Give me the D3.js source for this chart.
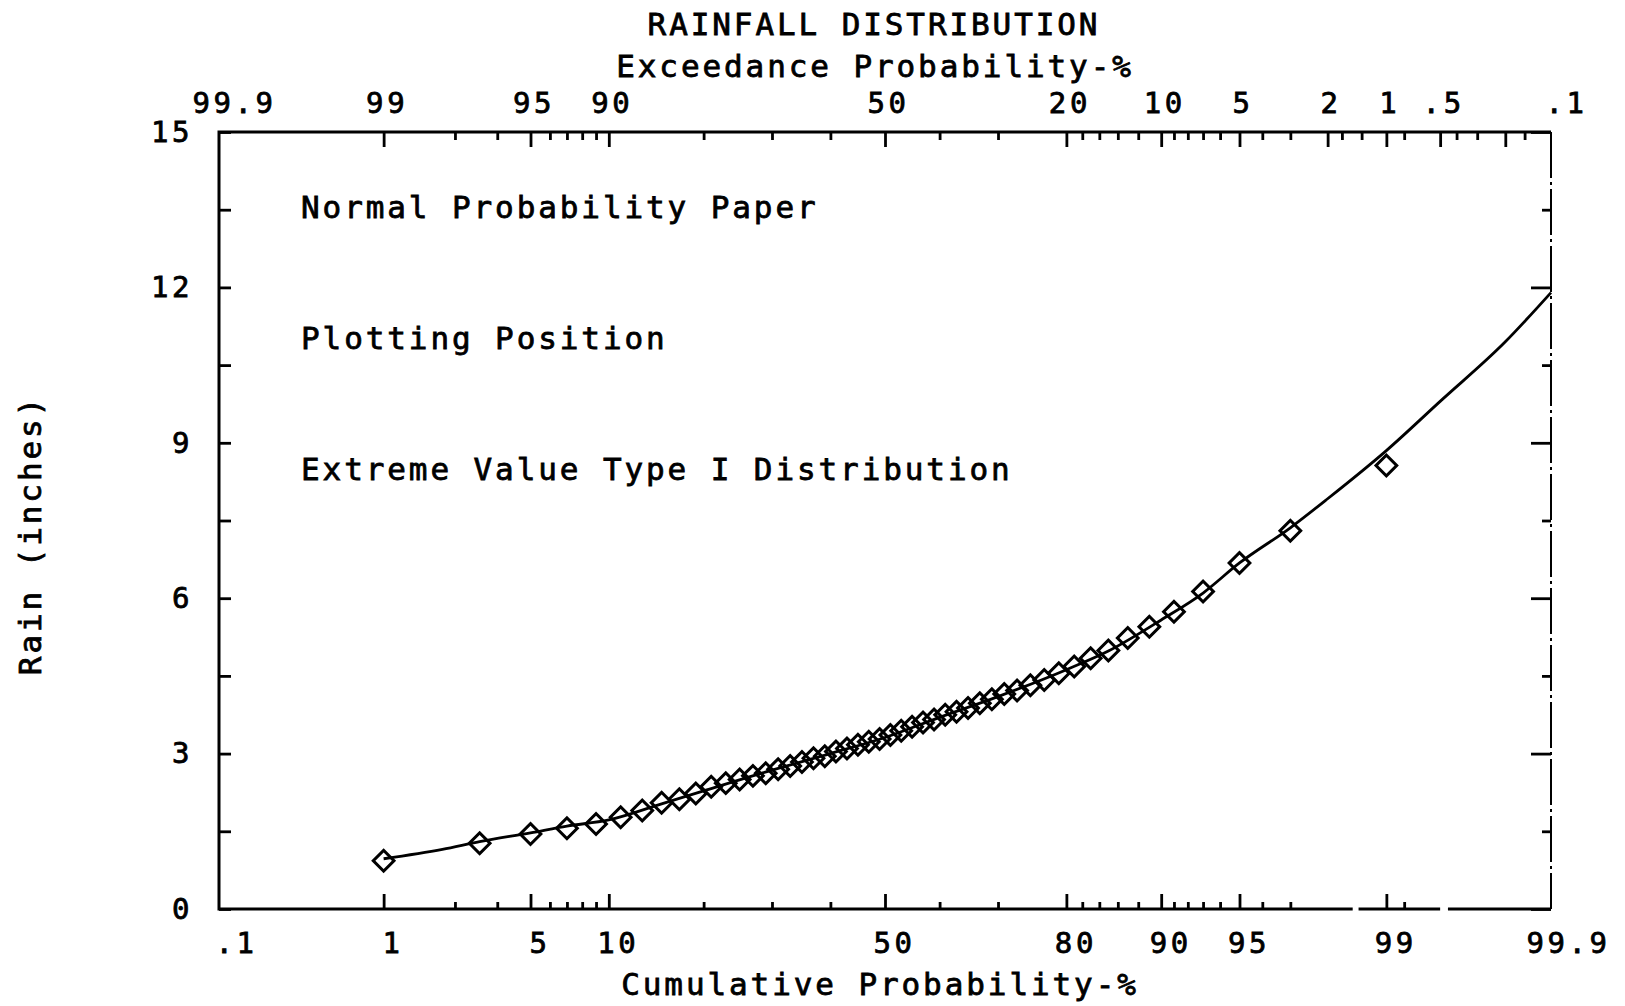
<!DOCTYPE html>
<html>
<head>
<meta charset="utf-8">
<script src="https://cdn.jsdelivr.net/npm/d3@7"></script>
<style>
    body { margin: 0; background: #fff; }
    text { font-family: "DejaVu Sans Mono", monospace; font-size: 31px; letter-spacing: 2.9px; fill: #000; stroke: #000; stroke-width: 0.8px; }
    .tick text { font-size: 29px; letter-spacing: 3.6px; }
</style>
</head>
<body>
<div id="chart"></div>
<script>

// Plotted points: cumulative probability (%) and rain (inches)
const pointProb = [1, 3, 5, 7, 9, 11, 13, 15, 17, 19, 21, 23, 25, 27, 29, 31, 33, 35, 37, 39,
    41, 43, 45, 47, 49, 51, 53, 55, 57, 59, 61, 63, 65, 67, 69, 71, 73, 75, 77, 79,
    81, 83, 85, 87, 89, 91, 93, 95, 97, 99];
const pointRain = [0.93, 1.27, 1.45, 1.56, 1.64, 1.77, 1.90, 2.05, 2.12, 2.23, 2.36, 2.43, 2.50, 2.57, 2.62, 2.70, 2.76, 2.84, 2.91, 2.95,
    3.04, 3.10, 3.17, 3.23, 3.28, 3.36, 3.44, 3.52, 3.60, 3.66, 3.75, 3.81, 3.88, 3.97, 4.05, 4.15, 4.22, 4.32, 4.42, 4.55,
    4.68, 4.84, 4.99, 5.23, 5.45, 5.74, 6.13, 6.68, 7.30, 8.56];

// Fitted Extreme Value Type I line
const curveProb = [1, 2, 3, 5, 7, 10, 15, 20, 30, 40, 50, 60, 70, 80, 85, 90, 93, 95, 97, 98, 99, 99.5, 99.8, 99.9];
const curveRain = [0.97, 1.15, 1.30, 1.47, 1.60, 1.72, 2.03, 2.28, 2.68, 3.00, 3.31, 3.70, 4.10, 4.62, 4.98, 5.58, 6.10, 6.68, 7.36, 7.92, 8.85, 9.80, 10.95, 11.9];

// Bottom axis (cumulative probability)
const bottomMajor = [1, 5, 10, 50, 80, 90, 95, 99];
const bottomMinor = [2.3, 3.6, 6, 7, 8, 9, 20, 30, 40, 60, 70, 82, 84, 86, 88, 91, 92, 93, 94, 96, 97, 99.2];
const bottomLabelProb = [0.1, 1, 5, 10, 50, 80, 90, 95, 99, 99.9];
const bottomLabelText = [".1", "1", "5", "10", "50", "80", "90", "95", "99", "99.9"];

// Top axis (exceedance probability), positioned by cumulative probability
const topMajor = [1, 5, 10, 50, 80, 90, 95, 98, 99, 99.5, 99.8];
const topMinor = [2.3, 3.6, 6, 7, 8, 9, 20, 30, 40, 60, 70, 82, 84, 86, 88, 91, 92, 93, 94, 96, 97, 98.3, 98.65, 99.2, 99.6, 99.7, 99.85];
const topLabelProb = [0.1, 1, 5, 10, 50, 80, 90, 95, 98, 99, 99.5, 99.9];
const topLabelText = ["99.9", "99", "95", "90", "50", "20", "10", "5", "2", "1", ".5", ".1"];

// Rain axis
const rainTicks = [0, 1.5, 3, 4.5, 6, 7.5, 9, 10.5, 12, 13.5, 15];
const rainLabels = [0, 3, 6, 9, 12, 15];

const notes = ["Normal Probability Paper", "Plotting Position", "Extreme Value Type I Distribution"];

// inverse of the standard normal CDF (Acklam), used for the probability paper axis
function probit(p) {
    const a = [-3.969683028665376e+01, 2.209460984245205e+02, -2.759285104469687e+02, 1.383577518672690e+02, -3.066479806614716e+01, 2.506628277459239e+00];
    const b = [-5.447609879822406e+01, 1.615858368580409e+02, -1.556989798598866e+02, 6.680131188771972e+01, -1.328068155288572e+01];
    const c = [-7.784894002430293e-03, -3.223964580411365e-01, -2.400758277161838e+00, -2.549732539343734e+00, 4.374664141464968e+00, 2.938163982698783e+00];
    const d = [7.784695709041462e-03, 3.224671290700398e-01, 2.445134137142996e+00, 3.754408661907416e+00];
    const plow = 0.02425;
    let q, r;
    if (p < plow) {
        q = Math.sqrt(-2 * Math.log(p));
        return (((((c[0]*q+c[1])*q+c[2])*q+c[3])*q+c[4])*q+c[5]) / ((((d[0]*q+d[1])*q+d[2])*q+d[3])*q+1);
    }
    if (p > 1 - plow) {
        q = Math.sqrt(-2 * Math.log(1 - p));
        return -(((((c[0]*q+c[1])*q+c[2])*q+c[3])*q+c[4])*q+c[5]) / ((((d[0]*q+d[1])*q+d[2])*q+d[3])*q+1);
    }
    q = p - 0.5;
    r = q * q;
    return (((((a[0]*r+a[1])*r+a[2])*r+a[3])*r+a[4])*r+a[5])*q / (((((b[0]*r+b[1])*r+b[2])*r+b[3])*r+b[4])*r+1);
}

function probabilityPlot(chartDiv) {

    const width = 1625
    const height = 1006
    const left = 219, right = 1551, top = 132, bottom = 909;

    const svg = d3.select(chartDiv)
        .append("svg")
        .attr("width", width)
        .attr("height", height);

    // x is linear in the normal deviate, y is linear in inches
    const zScale = d3.scaleLinear()
        .domain([probit(0.001), probit(0.999)])
        .range([left, right]);
    const z = pct => probit(pct / 100);
    const x = pct => zScale(z(pct));

    const y = d3.scaleLinear()
        .domain([0, 15])
        .range([bottom, top]);

    const tickStyle = g => {
        g.select(".domain").remove();
        g.attr("font-size", null).attr("font-family", null);
        g.selectAll(".tick line").attr("stroke", "#000").attr("stroke-width", 2.8);
    };

    // bottom axis: ticks point inward
    svg.append("g")
        .attr("transform", `translate(0,${bottom})`)
        .call(d3.axisBottom(zScale).tickValues(bottomMinor.map(z)).tickSize(-7).tickFormat(""))
        .call(tickStyle);
    svg.append("g")
        .attr("transform", `translate(0,${bottom})`)
        .call(d3.axisBottom(zScale).tickValues(bottomMajor.map(z)).tickSize(-15).tickFormat(""))
        .call(tickStyle);
    svg.append("g")
        .attr("transform", `translate(0,${bottom})`)
        .call(d3.axisBottom(zScale).tickValues(bottomLabelProb.map(z)).tickSize(0)
            .tickFormat((d, i) => bottomLabelText[i]))
        .call(tickStyle)
        .selectAll("text")
        .attr("y", 44)
        .attr("dy", null)
        .attr("dx", (d, i) => (i === 0 || i === bottomLabelText.length - 1) ? 17 : 9);

    // top axis: exceedance probability
    svg.append("g")
        .attr("transform", `translate(0,${top})`)
        .call(d3.axisTop(zScale).tickValues(topMinor.map(z)).tickSize(-8).tickFormat(""))
        .call(tickStyle);
    svg.append("g")
        .attr("transform", `translate(0,${top})`)
        .call(d3.axisTop(zScale).tickValues(topMajor.map(z)).tickSize(-15).tickFormat(""))
        .call(tickStyle);
    svg.append("g")
        .attr("transform", `translate(0,${top})`)
        .call(d3.axisTop(zScale).tickValues(topLabelProb.map(z)).tickSize(0)
            .tickFormat((d, i) => topLabelText[i]))
        .call(tickStyle)
        .selectAll("text")
        .attr("y", -19)
        .attr("dy", null)
        .attr("dx", (d, i) => (i === 0 || i === topLabelText.length - 1) ? 15 : 3);

    // left and right rain axes
    svg.append("g")
        .attr("transform", `translate(${left},0)`)
        .call(d3.axisLeft(y).tickValues(rainTicks).tickSize(-12)
            .tickFormat(d => rainLabels.includes(d) ? d : ""))
        .call(tickStyle)
        .selectAll("text")
        .attr("x", -26);
    svg.append("g")
        .attr("transform", `translate(${right},0)`)
        .call(d3.axisRight(y).tickValues(rainTicks.filter(d => !rainLabels.includes(d))).tickSize(-9).tickFormat(""))
        .call(tickStyle);
    svg.append("g")
        .attr("transform", `translate(${right},0)`)
        .call(d3.axisRight(y).tickValues(rainLabels).tickSize(-20).tickFormat(""))
        .call(tickStyle);

    // frame; the bottom line has two small breaks near the right end
    const frame = svg.append("g").attr("stroke", "#000").attr("fill", "none");
    frame.append("path")
        .attr("d", `M${x(99.9)},${y(15)}H${x(0.1)}V${y(0)}H${x(98.5)}`)
        .attr("stroke-width", 3)
        .attr("stroke-linejoin", "miter");
    frame.append("path")
        .attr("d", `M${x(98.6)},${y(0)}H${x(99.5)}M${x(99.55)},${y(0)}H${x(99.9)}`)
        .attr("stroke-width", 3);
    frame.append("line")
        .attr("x1", x(99.9)).attr("x2", x(99.9))
        .attr("y1", y(15)).attr("y2", y(0))
        .attr("stroke-width", 2)
        .attr("stroke-dasharray", "46,4,3,4");

    // fitted curve
    const curveData = curveProb.map((p, i) => ({p: p, r: curveRain[i]}));
    const line = d3.line()
        .x(d => x(d.p))
        .y(d => y(d.r))
        .curve(d3.curveMonotoneX);
    svg.append("path")
        .datum(curveData)
        .attr("d", line)
        .attr("fill", "none")
        .attr("stroke", "#000")
        .attr("stroke-width", 2.8);

    // plotting positions as open diamonds
    const pointData = pointProb.map((p, i) => ({p: p, r: pointRain[i]}));
    svg.selectAll(".point")
        .data(pointData)
        .enter()
        .append("path")
        .attr("class", "point")
        .attr("d", d3.symbol().type(d3.symbolSquare).size(215))
        .attr("transform", d => `translate(${x(d.p)},${y(d.r)}) rotate(45)`)
        .attr("fill", "none")
        .attr("stroke", "#000")
        .attr("stroke-width", 3);

    // titles
    svg.append("text")
        .attr("x", 874).attr("y", 35)
        .attr("text-anchor", "middle")
        .text("RAINFALL DISTRIBUTION");
    svg.append("text")
        .attr("x", 875).attr("y", 77)
        .attr("text-anchor", "middle")
        .text("Exceedance Probability-%");
    svg.append("text")
        .attr("x", 880).attr("y", 995)
        .attr("text-anchor", "middle")
        .text("Cumulative Probability-%");
    svg.append("text")
        .attr("transform", "translate(41,535) rotate(-90)")
        .attr("text-anchor", "middle")
        .text("Rain (inches)");

    // notes inside the plot
    svg.selectAll(".note")
        .data(notes)
        .enter()
        .append("text")
        .attr("class", "note")
        .attr("x", 301)
        .attr("y", (d, i) => 218 + i * 131)
        .text(d => d);
}

document.addEventListener("DOMContentLoaded", function() {
    probabilityPlot("#chart");
});
</script>
</body>
</html>
